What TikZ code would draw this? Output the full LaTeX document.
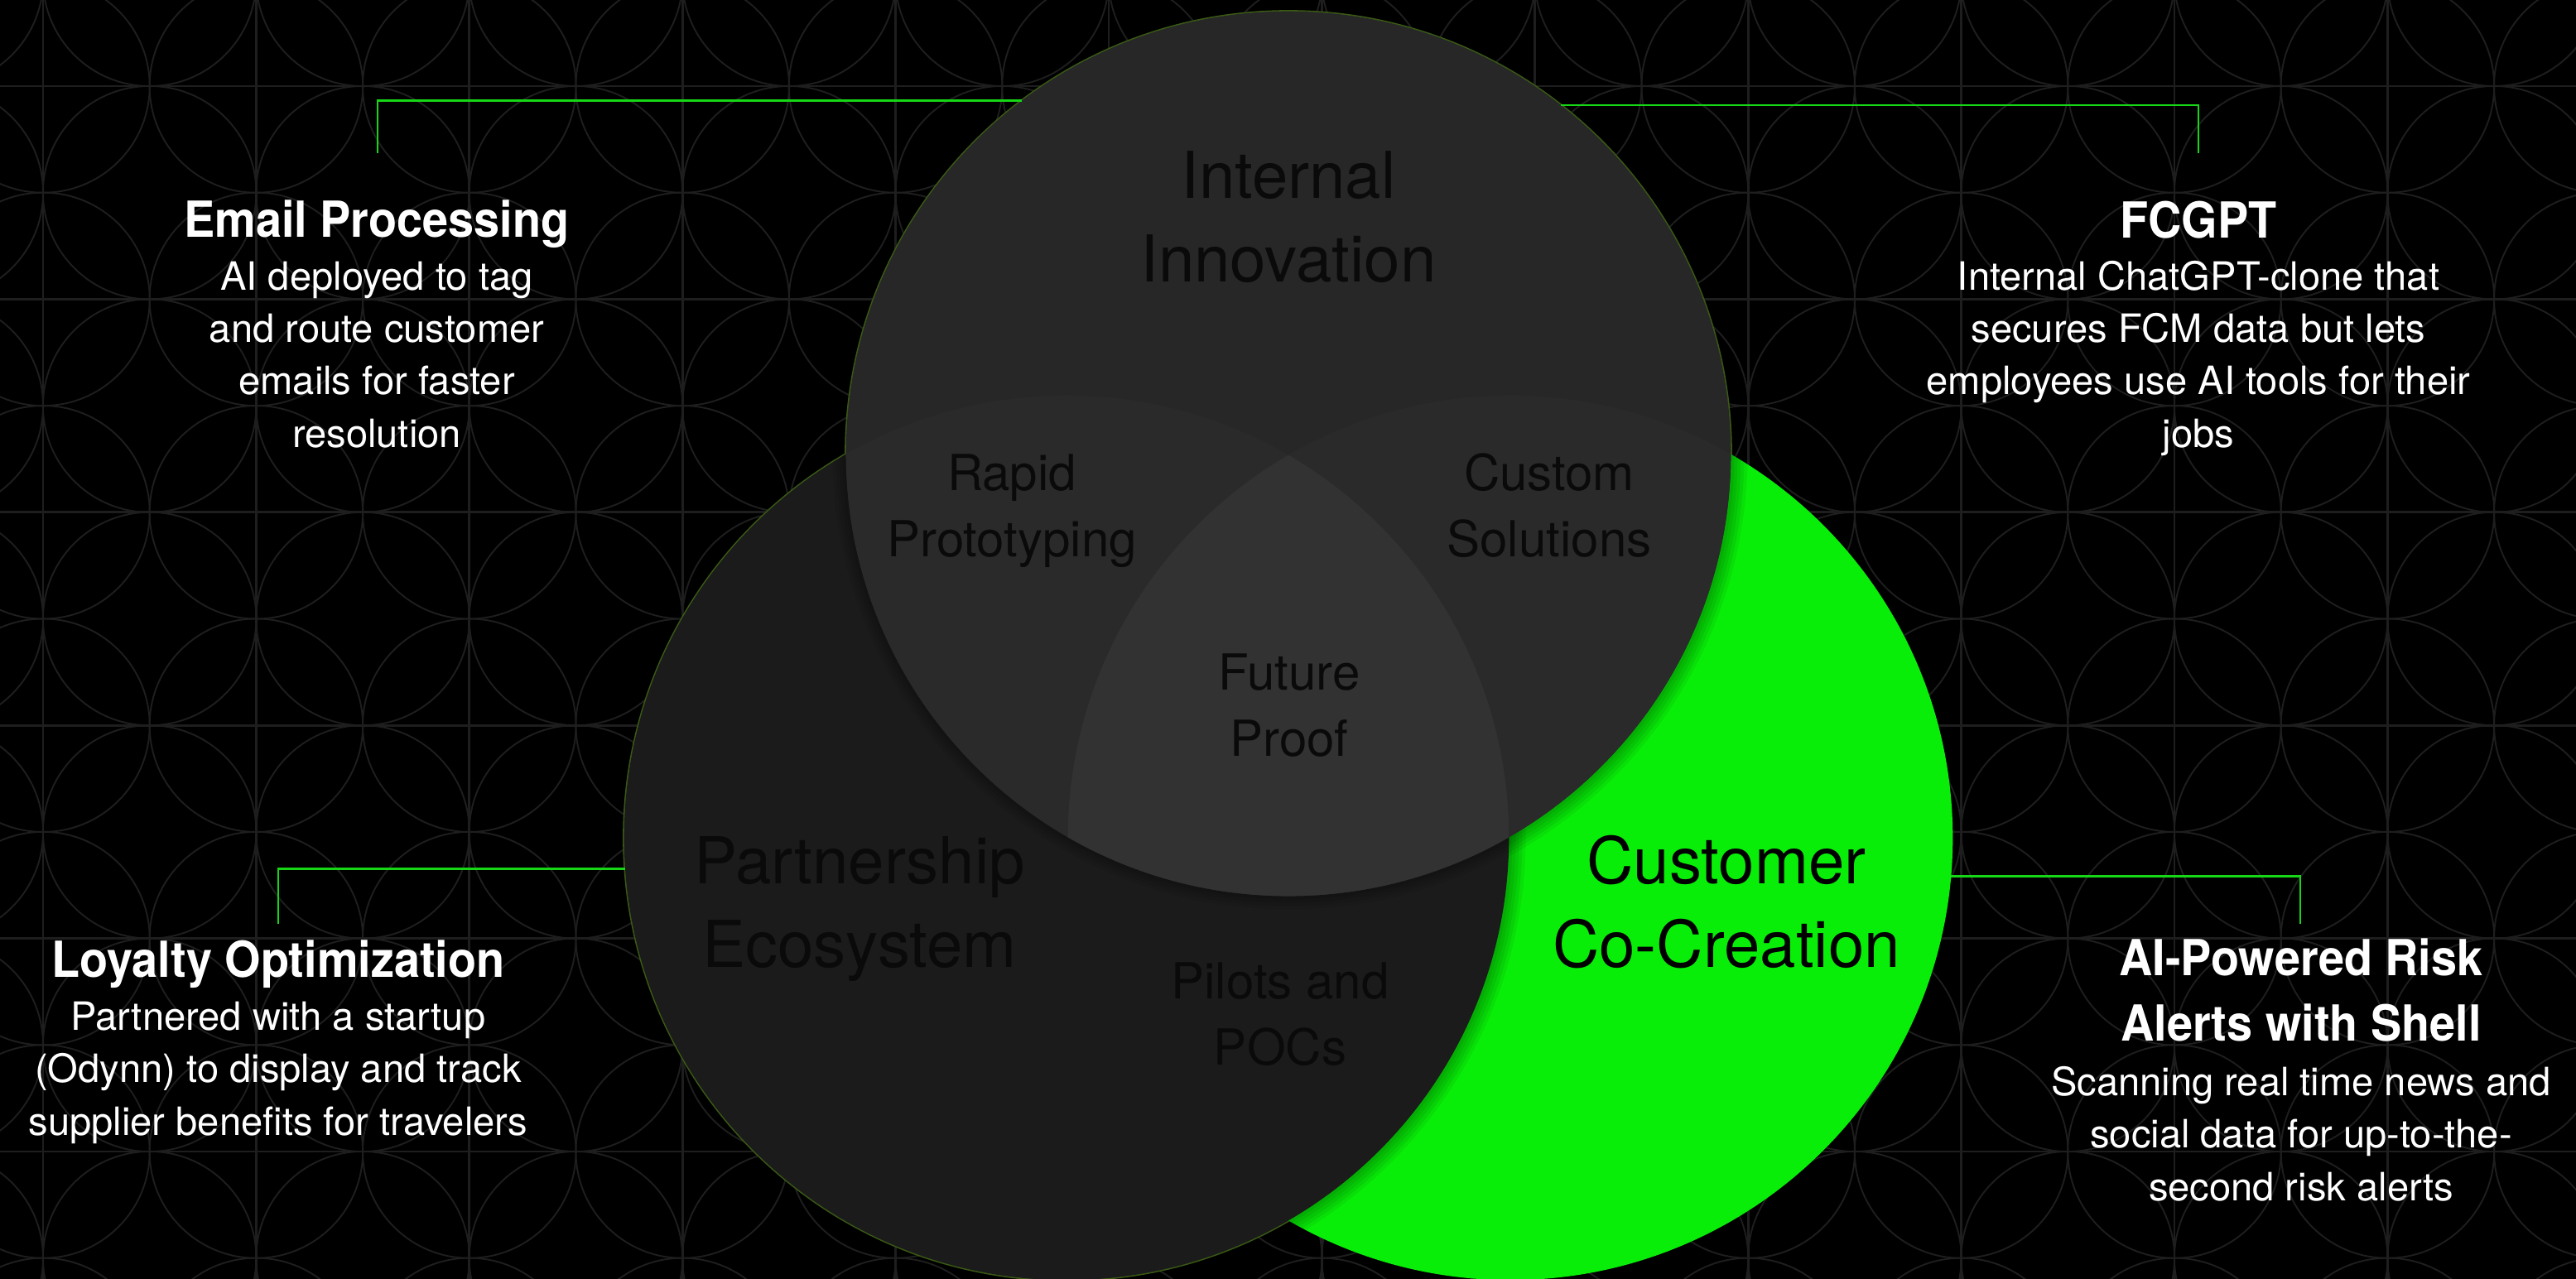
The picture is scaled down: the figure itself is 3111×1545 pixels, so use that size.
\documentclass[tikz,border=0pt]{standalone}
\usepackage{fontspec}
\setmainfont{TeX Gyre Heros}
\newfontfamily\titlefamily[FakeStretch=0.93]{TeX Gyre Heros}
\definecolor{bgline}{HTML}{1E1E1E}
\definecolor{topc}{HTML}{272727}
\definecolor{leftc}{HTML}{1B1B1B}
\definecolor{greenc}{HTML}{09EE09}
\definecolor{lensc}{HTML}{2A2A2A}
\definecolor{centerc}{HTML}{323232}
\definecolor{connc}{HTML}{16D616}
\definecolor{labelc}{HTML}{0A0A0A}
\definecolor{rimc}{HTML}{3A5A14}
\tikzset{
  bgcirc/.style={draw=bgline, line width=0.55pt},
  bggrid/.style={draw=bgline, line width=0.8pt},
  vcirc/.style={circle, minimum size=10.68cm, inner sep=0pt, outer sep=0pt},
  connector/.style={draw=connc, line width=0.75pt},
  sidetitle/.style={text=white, align=center, inner sep=0pt,
     font=\titlefamily\bfseries\fontsize{17.07}{22.2}\selectfont},
  sidebody/.style={text=white, align=center, inner sep=0pt,
     font=\fontsize{13.4}{17.93}\selectfont},
  biglabel/.style={text=labelc, align=center, inner sep=0pt,
     font=\fontsize{22.2}{28.6}\selectfont},
  smalllabel/.style={text=labelc, align=center, inner sep=0pt,
     font=\fontsize{17.07}{22.5}\selectfont},
}
\begin{document}
\begin{tikzpicture}[x=0.01cm, y=-0.01cm]
\useasboundingbox (0,0) rectangle (3111,1545);
\fill[black] (0,0) rectangle (3111,1545);
% background pattern
\begin{scope}
\clip (0,0) rectangle (3111,1545);
\foreach \i in {-1,...,12} {
  \foreach \j in {-1,...,6} {
    \draw[bgcirc] ({52+\i*257.4},{104+\j*257.4}) circle[radius=1.287cm];
    \draw[bgcirc] ({52+(\i+0.5)*257.4},{104+(\j+0.5)*257.4}) circle[radius=1.287cm];
  }
}
\foreach \i in {0,...,11} { \draw[bggrid] ({52+\i*257.4},0) -- ({52+\i*257.4},1545); }
\foreach \j in {0,...,5} { \draw[bggrid] (0,{104+\j*257.4}) -- (3111,{104+\j*257.4}); }
\end{scope}
% centres
\coordinate (cT) at (1556,548);
\coordinate (cL) at (1288,1012);
\coordinate (cR) at (1824,1012);
% rims
\draw[rimc, line width=0.6pt] (cT) circle[radius=5.345cm];
\draw[rimc, line width=0.6pt] (cL) circle[radius=5.345cm];
% green circle
\node[vcirc, fill=greenc] (R) at (cR) {};
\begin{scope}
\clip (cR) circle[radius=5.34cm];
\foreach \w in {2.3pt,4.6pt,6.9pt,9.2pt,11.5pt} {
  \draw[black, opacity=0.06, line width=\w] (cL) circle[radius=5.34cm];
  \draw[black, opacity=0.06, line width=\w] (cT) circle[radius=5.34cm];
}
\end{scope}
% left circle
\node[vcirc, fill=leftc] (L) at (cL) {};
\begin{scope}
\clip (cL) circle[radius=5.34cm];
\foreach \w in {2.3pt,4.6pt,6.9pt,9.2pt} {
  \draw[black, opacity=0.05, line width=\w] (cT) circle[radius=5.34cm];
}
\end{scope}
% top circle
\node[vcirc, fill=topc] (T) at (cT) {};
\begin{scope}
\clip (cT) circle[radius=5.34cm];
\fill[lensc] (cL) circle[radius=5.34cm];
\fill[lensc] (cR) circle[radius=5.34cm];
\clip (cL) circle[radius=5.34cm];
\fill[centerc] (cR) circle[radius=5.34cm];
\end{scope}
% circle labels (anchor = baseline of last line)
\node[biglabel, anchor=base] (lblT) at (1556,340) {Internal\\Innovation};
\node[biglabel, anchor=base] (lblL) at (1038,1168) {Partnership\\Ecosystem};
\node[biglabel, anchor=base, text=black] (lblR) at (2085,1168) {Customer\\Co-Creation};
\node[smalllabel, anchor=base] (lblTL) at (1222,672) {Rapid\\Prototyping};
\node[smalllabel, anchor=base] (lblTR) at (1871,672) {Custom\\Solutions};
\node[smalllabel, anchor=base] (lblC) at (1557,913) {Future\\Proof};
\node[smalllabel, anchor=base] (lblLR) at (1546,1286) {Pilots and\\POCs};
% side texts
\node[sidetitle, anchor=base] (emailT) at (455,286) {Email Processing};
\node[sidebody, anchor=base] (emailB) at (455,540) {AI deployed to tag\\and route customer\\emails for faster\\resolution};
\node[sidetitle, anchor=base] (fcT) at (2655,287) {FCGPT};
\node[sidebody, anchor=base] (fcB) at (2655,540) {Internal ChatGPT-clone that\\secures FCM data but lets\\employees use AI tools for their\\jobs};
\node[sidetitle, anchor=base] (loyT) at (336,1180) {Loyalty Optimization};
\node[sidebody, anchor=base] (loyB) at (336,1371) {Partnered with a startup\\(Odynn) to display and track\\supplier benefits for travelers};
\node[sidetitle, anchor=base] (riskT) at (2779,1257) {AI-Powered Risk\\Alerts with Shell};
\node[sidebody, anchor=base] (riskB) at (2779,1450) {Scanning real time news and\\social data for up-to-the-\\second risk alerts};
% connectors
\coordinate (emailEnd) at (456,185);
\coordinate (fcEnd) at (2655,185);
\coordinate (loyEnd) at (336,1116);
\coordinate (riskEnd) at (2778,1116);
\draw[connector] (T.127.97) -| (emailEnd);
\draw[connector] (T.52.03) -| (fcEnd);
\draw[connector] (L.184.83) -| (loyEnd);
\draw[connector] (R.355.17) -| (riskEnd);
\end{tikzpicture}
\end{document}
